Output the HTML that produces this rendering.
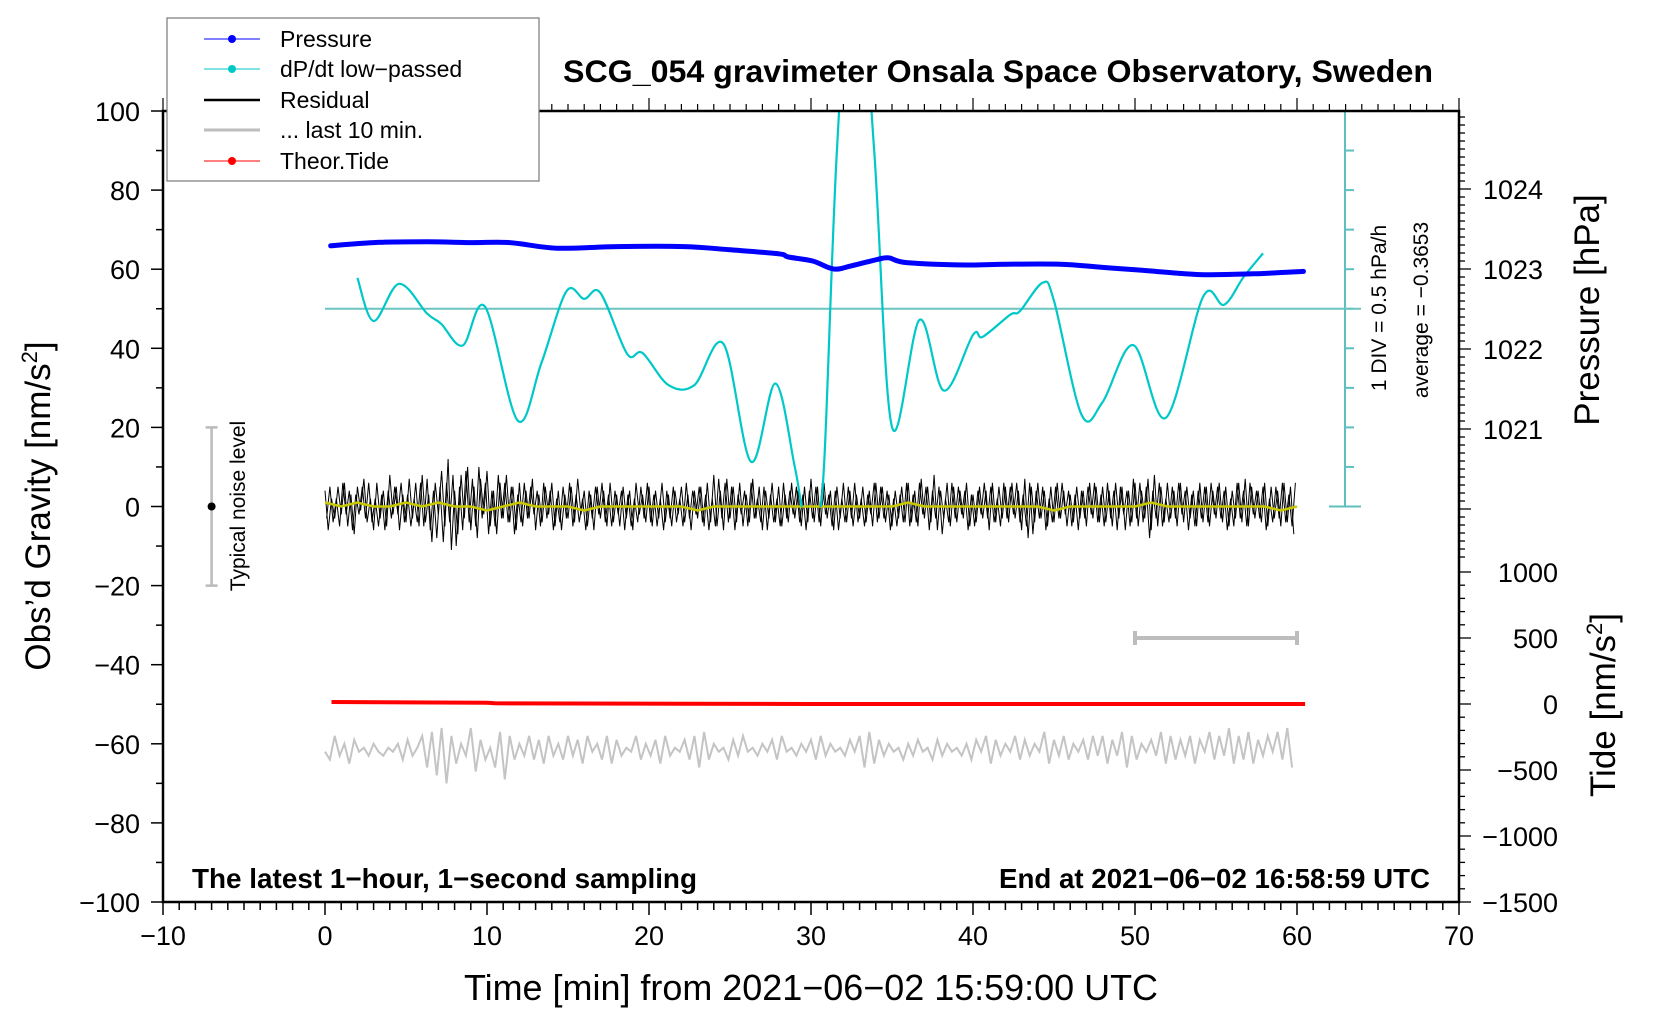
<!DOCTYPE html>
<html><head><meta charset="utf-8"><style>
html,body{margin:0;padding:0;background:#fff;}
svg{display:block;font-family:"Liberation Sans",Arial,sans-serif;}
</style></head><body>
<svg id="chart" width="1660" height="1020" viewBox="0 0 1660 1020" xmlns="http://www.w3.org/2000/svg">
<defs>
<clipPath id="plotclip"><rect x="163" y="111" width="1296" height="791"/></clipPath>
<clipPath id="dpclip"><rect x="163" y="111" width="1296" height="396"/></clipPath>
</defs>
<g id="ticks"></g>
<g id="marks"></g>
<rect x="163" y="111" width="1296" height="791" fill="none" stroke="#000" stroke-width="2.5"/>
<g id="labels" font-size="27" fill="#000"></g>
<text x="998" y="82" font-size="31.5" font-weight="bold" text-anchor="middle" textLength="870" lengthAdjust="spacingAndGlyphs">SCG_054 gravimeter Onsala Space Observatory, Sweden</text>
<text x="811" y="1000" font-size="36" text-anchor="middle" textLength="694" lengthAdjust="spacingAndGlyphs">Time [min] from 2021−06−02 15:59:00 UTC</text>
<text transform="translate(50,506) rotate(-90)" font-size="35" text-anchor="middle">Obs’d Gravity [nm/s<tspan font-size="22" dy="-13">2</tspan><tspan dy="13">]</tspan></text>
<text transform="translate(1599,310) rotate(-90)" font-size="35" text-anchor="middle">Pressure [hPa]</text>
<text transform="translate(1615,705) rotate(-90)" font-size="35" text-anchor="middle">Tide [nm/s<tspan font-size="22" dy="-13">2</tspan><tspan dy="13">]</tspan></text>
<text transform="translate(1386,308) rotate(-90)" font-size="21" text-anchor="middle">1 DIV = 0.5 hPa/h</text>
<text transform="translate(1428,310) rotate(-90)" font-size="21" text-anchor="middle">average = −0.3653</text>
<text transform="translate(245,506) rotate(-90)" font-size="21" text-anchor="middle">Typical noise level</text>
<text x="192" y="888" font-size="27.5" font-weight="bold" textLength="505" lengthAdjust="spacingAndGlyphs">The latest 1−hour, 1−second sampling</text>
<text x="1430" y="888" font-size="27.5" font-weight="bold" text-anchor="end" textLength="431" lengthAdjust="spacingAndGlyphs">End at 2021−06−02 16:58:59 UTC</text>
<g>
<rect x="167" y="18" width="372" height="163" fill="#fff" stroke="#777" stroke-width="1.2"/>
<g><line x1="204" y1="39" x2="260" y2="39" stroke="#0000ff" stroke-width="1"/><circle cx="232" cy="39" r="4" fill="#0000ff"/><text x="280" y="47" font-size="23">Pressure</text></g>
<g><line x1="204" y1="69" x2="260" y2="69" stroke="#00c8c8" stroke-width="1"/><circle cx="232" cy="69" r="4" fill="#00c8c8"/><text x="280" y="77" font-size="23">dP/dt low−passed</text></g>
<g><line x1="204" y1="100" x2="260" y2="100" stroke="#000" stroke-width="2.5"/><text x="280" y="108" font-size="23">Residual</text></g>
<g><line x1="204" y1="130" x2="260" y2="130" stroke="#bdbdbd" stroke-width="3"/><text x="280" y="138" font-size="23">... last 10 min.</text></g>
<g><line x1="204" y1="161" x2="260" y2="161" stroke="#ff0000" stroke-width="1"/><circle cx="232" cy="161" r="4" fill="#ff0000"/><text x="280" y="169" font-size="23">Theor.Tide</text></g>
</g>
</svg>
<script>
// ---- data ----
const pressT=[0.35,3,6.3,9,11.4,14.3,18,22.2,25,28.0,28.6,30.1,31.4,32.5,34.1,34.8,35.9,39.6,42,45.4,48,50.7,54,57.3,60.4];
const pressV=[1023.29,1023.33,1023.34,1023.33,1023.33,1023.26,1023.28,1023.28,1023.24,1023.19,1023.15,1023.10,1023.00,1023.04,1023.12,1023.14,1023.08,1023.05,1023.06,1023.06,1023.02,1022.98,1022.93,1022.94,1022.97];
const dpT=[2.0,3.0,4.57,6.3,7.17,8.5,9.88,11.9,13.36,14.9,16.0,17.0,18.65,19.6,21.2,22.8,24.6,26.3,27.8,29.0,29.6,30.3,30.8,31.6,32.7,33.9,35.0,36.7,38.2,40.0,40.6,42.3,42.9,44.3,45.0,46.7,48.0,49.9,51.9,54.2,55.5,56.7,57.9];
const dpV=[57.8,46.9,56.3,48.8,46.2,40.7,50.5,21.7,36.3,54.4,52.5,54,38.6,38.8,30.7,30.7,41.1,11.3,31.1,10,-3,-3,10,90,150,90,20.1,47.2,29.3,43.4,42.9,48.5,49.4,56.6,52,23.2,26.4,40.8,22.4,53,51,58,64];
const resid=[4,-6,2,-3,5,-2,6,-5,3,-7,5,-1,7,-4,2,-6,6,-3,4,-5,8,-2,5,-6,3,-4,7,-3,6,-5,
8,-4,3,-9,6,-2,9,-5,12,-11,4,-7,8,-3,10,-6,5,-8,7,-2,9,-5,4,-7,6,-3,8,-4,5,-6,
6,-5,4,-3,7,-6,3,-4,5,-2,6,-5,4,-6,3,-3,5,-4,7,-2,4,-5,3,-6,5,-3,4,-5,6,-4,
3,-5,5,-3,4,-6,6,-2,3,-4,5,-5,4,-3,6,-4,3,-5,4,-2,5,-4,3,-6,4,-3,5,-5,6,-4,
8,-5,4,-6,7,-3,5,-4,6,-5,3,-4,7,-3,5,-6,4,-3,6,-4,5,-5,3,-4,6,-3,4,-5,5,-4,
7,-4,5,-5,6,-3,4,-6,5,-3,6,-4,4,-5,3,-3,5,-4,4,-5,6,-3,5,-4,3,-5,4,-3,5,-4,
6,-4,4,-5,7,-3,5,-4,8,-6,4,-3,6,-5,5,-4,4,-3,6,-5,3,-4,5,-3,4,-6,6,-4,5,-3,
5,-4,6,-3,4,-6,7,-8,5,-4,6,-3,4,-5,5,-4,6,-3,4,-5,3,-4,5,-3,4,-5,6,-3,5,-4,
5,-4,4,-5,6,-3,5,-6,4,-4,6,-5,4,-3,7,-6,8,-5,5,-4,6,-3,4,-5,6,-4,5,-3,4,-5,
6,-4,5,-5,4,-3,6,-4,5,-5,4,-3,6,-4,7,-5,5,-3,4,-4,6,-5,5,-3,4,-5,6,-4,5,-7];
const resid2=[-3,5,-4,2,-5,6,-2,4,-6,3,-2,5,-3,6,-4,2,-5,3,-6,4,-3,5,-2,6,-4,3,-5,2,-4,6,
-5,7,-6,4,-8,5,-9,6,-4,8,-10,5,-6,9,-4,7,-5,10,-3,6,-7,4,-5,8,-3,6,-4,5,-7,3,
-4,6,-3,5,-2,4,-5,6,-3,4,-6,2,-4,5,-3,6,-5,3,-4,2,-6,4,-3,5,-2,6,-4,3,-5,4,
-2,4,-6,3,-5,2,-4,5,-3,6,-4,3,-5,2,-6,4,-3,5,-4,2,-5,6,-3,4,-2,5,-4,3,-6,2,
-5,7,-3,6,-4,5,-6,3,-2,4,-5,6,-3,2,-4,5,-6,3,-4,2,-5,6,-3,4,-2,5,-4,3,-6,4,
-3,5,-4,6,-2,3,-5,4,-6,2,-4,5,-3,6,-4,2,-5,3,-2,6,-4,5,-3,4,-6,2,-5,3,-4,6,
-5,3,-4,6,-2,5,-6,4,-3,5,-7,2,-4,6,-3,5,-2,4,-6,3,-5,4,-2,6,-3,5,-4,2,-5,6,
-3,5,-2,6,-4,3,-5,6,-7,4,-3,5,-6,2,-4,5,-3,6,-2,4,-5,3,-6,4,-3,5,-2,6,-4,3,
-5,6,-3,4,-6,5,-2,4,-5,7,-3,6,-4,5,-8,4,-3,6,-5,2,-4,5,-3,6,-2,4,-6,3,-5,4,
-3,5,-4,6,-2,5,-3,4,-6,2,-5,6,-3,4,-5,6,-2,4,-3,5,-6,2,-4,5,-3,6,-4,3,-5,6];
const smooth=[1,0,1,0,0,1,0,1,0,0,-1,0,1,0,0,0,-1,0,0,0,0,0,0,-1,0,0,0,0,0,0,0,0,0,0,0,0,1,0,0,0,0,0,0,0,0,-1,0,0,0,0,0,1,0,0,0,0,0,0,0,-1,0];
const last10=[-62,-64,-58,-63,-60,-65,-59,-62,-61,-63,-60,-62,-63,-61,-62,-60,-64,-59,-63,-61,
-58,-66,-57,-68,-56,-70,-58,-65,-60,-63,-56,-67,-59,-64,-61,-66,-57,-69,-58,-64,
-60,-63,-58,-64,-59,-65,-58,-63,-60,-64,-58,-63,-59,-65,-58,-62,-60,-64,-58,-65,
-59,-63,-61,-62,-58,-64,-60,-63,-59,-65,-58,-63,-61,-62,-59,-64,-58,-66,-57,-64,
-60,-62,-61,-64,-59,-63,-58,-62,-61,-63,-60,-62,-59,-64,-58,-62,-61,-63,-60,-62,
-59,-64,-58,-63,-60,-62,-61,-63,-59,-62,-58,-66,-57,-65,-59,-63,-60,-62,-61,-64,
-60,-63,-59,-62,-61,-64,-59,-63,-60,-62,-61,-63,-60,-64,-59,-62,-58,-65,-59,-63,
-60,-62,-58,-64,-59,-63,-60,-62,-57,-65,-59,-63,-58,-64,-60,-62,-59,-64,-58,-63,
-58,-65,-59,-63,-57,-66,-58,-64,-60,-62,-59,-63,-57,-65,-58,-64,-59,-63,-58,-65,
-59,-62,-57,-64,-58,-63,-56,-65,-58,-64,-57,-65,-59,-63,-58,-62,-57,-64,-56,-66];
const tideT=[0.4,10,10.5,22,30,40,50,58,60.5];
const tideV=[15,10,5,2,0,0,0,0,0];
const xTicks=[-10,0,10,20,30,40,50,60,70];
const gTicks=[100,80,60,40,20,0,-20,-40,-60,-80,-100];
const pTicks=[1024,1023,1022,1021];
const tTicks=[1000,500,0,-500,-1000,-1500];

// ---- axes ----
const X=t=>325+16.2*t;
const Yg=g=>506.5-3.955*g;
const Yp=p=>269-80*(p-1023);
const Yt=v=>704-0.132*v;

const NS='http://www.w3.org/2000/svg';
function mk(tag,attrs,parent){const e=document.createElementNS(NS,tag);for(const k in attrs)e.setAttribute(k,attrs[k]);parent.appendChild(e);return e;}
const ticks=document.getElementById('ticks'),marks=document.getElementById('marks'),labels=document.getElementById('labels');
const fmt=v=>String(v).replace('-','−');

for(let t=-10;t<=70;t++){
  const major=t%10===0;
  let l=mk('line',{x1:X(t),x2:X(t),y1:902,y2:902+(major?13:8),stroke:'#000','stroke-width':1.5},ticks);
  
  
  let l2=mk('line',{x1:X(t),x2:X(t),y1:111,y2:111-(major?13:7),stroke:'#000','stroke-width':1.2},ticks);
  
  
}
xTicks.forEach(t=>{const e=mk('text',{x:X(t),y:945,'text-anchor':'middle'},labels);e.textContent=fmt(t);
  
  });
for(let g=-100;g<=100;g+=10){
  const major=g%20===0;
  let l=mk('line',{x1:163-(major?12:7),x2:163,y1:Yg(g),y2:Yg(g),stroke:'#000','stroke-width':1.5},ticks);
  
  
}
gTicks.forEach(g=>{const e=mk('text',{x:140,y:Yg(g)+10,'text-anchor':'end'},labels);e.textContent=fmt(g);
  
  });
for(let i=10249;i>=10194;i--){
  const p=i/10;const major=i%10===0;
  let l=mk('line',{x1:1459,x2:1459+(major?12:6),y1:Yp(p),y2:Yp(p),stroke:'#000','stroke-width':1.3},ticks);
  
  
}
pTicks.forEach(p=>{const e=mk('text',{x:1483,y:Yp(p)+10},labels);e.textContent=p;
  
  });
for(let v=1000;v>=-1500;v-=100){
  const major=v%500===0;
  let l=mk('line',{x1:1459,x2:1459+(major?12:6),y1:Yt(v),y2:Yt(v),stroke:'#000','stroke-width':1.3},ticks);
  
  
}
tTicks.forEach(v=>{const e=mk('text',{x:1558,y:Yt(v)+10,'text-anchor':'end'},labels);e.textContent=fmt(v);
  
  });

const cax=1345;
let ca=mk('line',{x1:cax,x2:cax,y1:Yg(100),y2:Yg(0),stroke:'#5fbfbf','stroke-width':2},marks);


for(let g=0;g<=100;g+=10){
  const end=(g===0||g===100);
  let l=mk('line',{x1:end?cax-16:cax,x2:end?cax+16:cax+9,y1:Yg(g),y2:Yg(g),stroke:'#5fbfbf','stroke-width':2},marks);
  
  
}
let zl=mk('line',{x1:X(0),x2:cax+16,y1:Yg(50),y2:Yg(50),stroke:'#6cc4c0','stroke-width':2},marks);



const nx=X(-7);
let nb=mk('path',{d:`M${nx-6},${Yg(20)}H${nx+6}M${nx},${Yg(20)}V${Yg(-20)}M${nx-6},${Yg(-20)}H${nx+6}`,stroke:'#bbb','stroke-width':2.5,fill:'none'},marks);


let nd=mk('circle',{cx:nx,cy:Yg(0),r:4,fill:'#000'},marks);



let sb=mk('path',{d:`M${X(50)},${Yt(500)-7}V${Yt(500)+7}M${X(50)},${Yt(500)}H${X(60)}M${X(60)},${Yt(500)-7}V${Yt(500)+7}`,stroke:'#bdbdbd','stroke-width':4,fill:'none'},marks);



function poly(ts,vs,yf){return ts.map((t,i)=>X(t).toFixed(1)+','+yf(vs[i]).toFixed(1)).join(' ');}
function catmull(ts,vs,yf){
  const p=ts.map((t,i)=>[X(t),yf(vs[i])]);let d=`M${p[0][0]},${p[0][1]}`;
  for(let i=0;i<p.length-1;i++){const a=p[Math.max(i-1,0)],b=p[i],c=p[i+1],e=p[Math.min(i+2,p.length-1)];
    d+=` C${b[0]+(c[0]-a[0])/6},${b[1]+(c[1]-a[1])/6} ${c[0]-(e[0]-b[0])/6},${c[1]-(e[1]-b[1])/6} ${c[0]},${c[1]}`;}
  return d;}

let gl=mk('polyline',{points:poly(last10.map((v,i)=>i*0.3),last10,Yg),fill:'none',stroke:'#c4c4c4','stroke-width':2},marks);


let rl=mk('polyline',{points:poly(resid.map((v,i)=>i*0.2),resid,Yg),fill:'none',stroke:'#000','stroke-width':1},marks);


let rl2=mk('polyline',{points:poly(resid2.map((v,i)=>i*0.2+0.1),resid2,Yg),fill:'none',stroke:'#000','stroke-width':1},marks);


let yl=mk('polyline',{points:poly(smooth.map((v,i)=>i),smooth,Yg),fill:'none',stroke:'#c8c800','stroke-width':2.5},marks);


let tl=mk('polyline',{points:poly(tideT,tideV,Yt),fill:'none',stroke:'#ff0000','stroke-width':4},marks);


let dl=mk('path',{d:catmull(dpT,dpV,Yg),fill:'none',stroke:'#00c8c8','stroke-width':2.2,'clip-path':'url(#dpclip)'},marks);


let pl=mk('path',{d:catmull(pressT,pressV,Yp),fill:'none',stroke:'#0000ff','stroke-width':5,'stroke-linecap':'round'},marks);


</script>
</body></html>
